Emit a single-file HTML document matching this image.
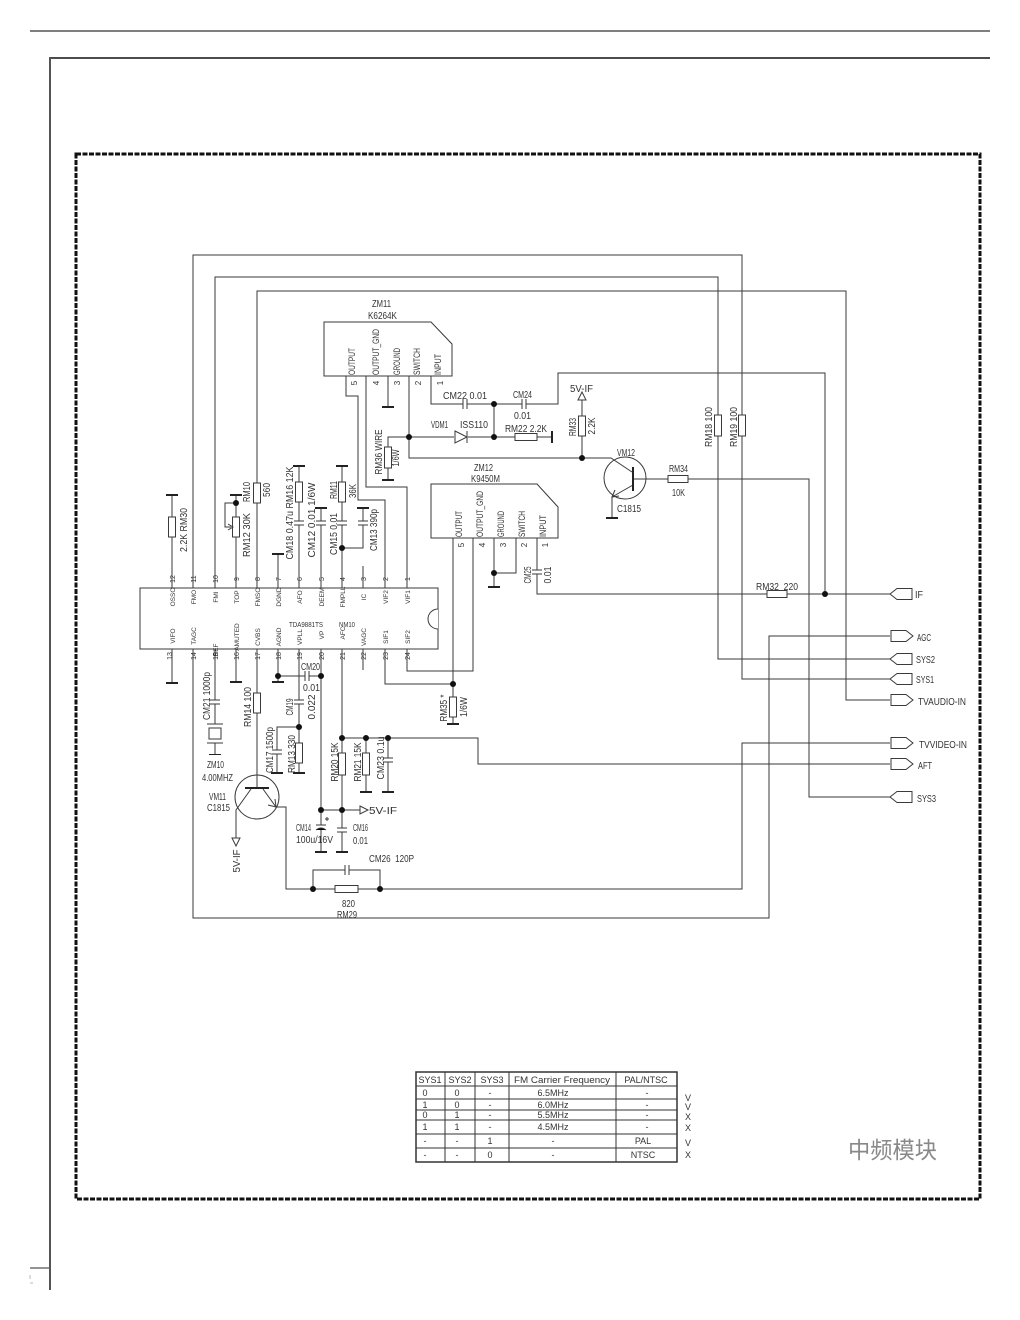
<!DOCTYPE html>
<html><head><meta charset="utf-8"><style>
html,body{margin:0;padding:0;background:#fff;}
svg{display:block;}
text{font-family:"Liberation Sans Narrow","Liberation Sans",sans-serif;fill:#333;}
</style></head><body>
<svg width="1020" height="1320" viewBox="0 0 1020 1320" xmlns="http://www.w3.org/2000/svg">
<!-- page frame -->
<line x1="30" y1="31" x2="990" y2="31" stroke="#555" stroke-width="1.5"/>
<line x1="50" y1="58" x2="990" y2="58" stroke="#111" stroke-width="1.5"/>
<line x1="50" y1="57" x2="50" y2="1290" stroke="#555" stroke-width="2"/>
<line x1="30" y1="1268" x2="50" y2="1268" stroke="#555" stroke-width="1.2"/>
<line x1="30" y1="1275" x2="30" y2="1279" stroke="#bbb" stroke-width="1"/>
<line x1="30" y1="1283" x2="33" y2="1283" stroke="#bbb" stroke-width="1"/>
<rect x="76" y="154" width="904" height="1045" fill="none" stroke="#111" stroke-width="3" stroke-dasharray="5 1.5"/>

<!-- wires -->
<g stroke="#3a3a3a" stroke-width="1" fill="none">
<path d="M193 588V255H742V679H890"/>
<path d="M215 588V277H718V659H890"/>
<path d="M257 588V291H846V700H890"/>
<path d="M346 376V396H358V500H385V588"/>
<path d="M366 376V487H407V588"/>
<path d="M388 376V407"/>
<path d="M409 376V458H582"/>
<path d="M409 437H388V480"/>
<path d="M409 437H552"/>
<path d="M431 376V404H558V373H825V594"/>
<path d="M494 404V437"/>
<path d="M582 400V458"/>
<path d="M582 458H611L632 472"/>
<path d="M633 485L612 497V518"/>
<path d="M633 479H809V797H890"/>
<path d="M453 538V724"/>
<path d="M473 538V671H407V649"/>
<path d="M494 538V587"/>
<path d="M516 538V573H494"/>
<path d="M537 538V594H890"/>
<path d="M385 649V684H453"/>
<path d="M172 495V588"/>
<path d="M236 495V588"/>
<path d="M236 503H225V527H231"/>
<path d="M278 554V588"/>
<path d="M299 466V588"/>
<path d="M321 508V588"/>
<path d="M342 466V588"/>
<path d="M342 548H363V508"/>
<path d="M363 566V588"/>
<path d="M172 649V683"/>
<path d="M193 649V918H769V636H890"/>
<path d="M215 649V754"/>
<path d="M236 649V682"/>
<path d="M257 649V788"/>
<path d="M251 789L236 810V838"/>
<path d="M263 789L276 807H286V889H742V743H890"/>
<path d="M278 649V682"/>
<path d="M278 676H321"/>
<path d="M299 649V773"/>
<path d="M299 727H277V773"/>
<path d="M321 649V852"/>
<path d="M342 649V852"/>
<path d="M321 810H360"/>
<path d="M342 738H478V764H890"/>
<path d="M366 738V792"/>
<path d="M388 738V792"/>
<path d="M363 649V670"/>
<path d="M313 889V870H380V889"/>
</g>

<!-- grounds -->
<g stroke="#222" stroke-width="2">
<line x1="382" y1="407" x2="394" y2="407"/>
<line x1="382" y1="480" x2="394" y2="480"/>
<line x1="552" y1="431" x2="552" y2="443"/>
<line x1="606" y1="518" x2="618" y2="518"/>
<line x1="488" y1="587" x2="500" y2="587"/>
<line x1="447" y1="724" x2="459" y2="724"/>
<line x1="166" y1="495" x2="178" y2="495"/>
<line x1="230" y1="495" x2="242" y2="495"/>
<line x1="272" y1="554" x2="284" y2="554"/>
<line x1="293" y1="466" x2="305" y2="466"/>
<line x1="315" y1="508" x2="327" y2="508"/>
<line x1="336" y1="466" x2="348" y2="466"/>
<line x1="357" y1="508" x2="369" y2="508"/>
<line x1="166" y1="683" x2="178" y2="683"/>
<line x1="209" y1="754" x2="221" y2="754"/>
<line x1="230" y1="682" x2="242" y2="682"/>
<line x1="272" y1="682" x2="284" y2="682"/>
<line x1="293" y1="773" x2="305" y2="773"/>
<line x1="271" y1="773" x2="283" y2="773"/>
<line x1="315" y1="852" x2="327" y2="852"/>
<line x1="336" y1="852" x2="348" y2="852"/>
<line x1="360" y1="792" x2="372" y2="792"/>
<line x1="382" y1="792" x2="394" y2="792"/>
</g>

<!-- resistors -->
<g fill="#fff" stroke="#3a3a3a" stroke-width="1">
<rect x="168.5" y="517" width="7" height="20"/>
<rect x="232.5" y="517" width="7" height="20"/>
<rect x="253.5" y="483" width="7" height="20"/>
<rect x="295.5" y="482" width="7" height="20"/>
<rect x="338.5" y="482" width="7" height="20"/>
<rect x="384.5" y="447" width="7" height="21"/>
<rect x="578.5" y="416" width="7" height="20"/>
<rect x="714.5" y="415" width="7" height="21"/>
<rect x="738.5" y="415" width="7" height="21"/>
<rect x="449.5" y="697" width="7" height="20"/>
<rect x="253.5" y="693" width="7" height="20"/>
<rect x="295.5" y="743" width="7" height="20"/>
<rect x="338.5" y="753" width="7" height="22"/>
<rect x="362.5" y="753" width="7" height="22"/>
<rect x="515" y="433.5" width="22" height="7"/>
<rect x="668" y="475.5" width="20" height="7"/>
<rect x="767" y="590.5" width="20" height="7"/>
<rect x="335" y="885.5" width="23" height="7"/>
</g>
<!-- pot wiper arrow -->
<path d="M228 524L233 527L228 530" fill="none" stroke="#3a3a3a"/>

<!-- capacitors -->
<g fill="#fff" stroke="none">
<rect x="293" y="521" width="12" height="4"/><rect x="315" y="521" width="12" height="4"/>
<rect x="336" y="521" width="12" height="4"/><rect x="357" y="521" width="12" height="4"/>
<rect x="531" y="570" width="12" height="4"/><rect x="209" y="700" width="12" height="4"/>
<rect x="293" y="700" width="12" height="4"/><rect x="271" y="750" width="12" height="4"/>
<rect x="315" y="825" width="12" height="4"/><rect x="336" y="828" width="12" height="4"/>
<rect x="382" y="758" width="12" height="4"/>
<rect x="463" y="398" width="4" height="12"/><rect x="522" y="398" width="4" height="12"/>
<rect x="305" y="670" width="4" height="12"/><rect x="345" y="864" width="4" height="12"/>
</g>
<g stroke="#3a3a3a" stroke-width="1">
<path d="M294 521H304M294 525H304"/><path d="M316 521H326M316 525H326"/>
<path d="M337 521H347M337 525H347"/><path d="M358 521H368M358 525H368"/>
<path d="M532 570H542M532 574H542"/><path d="M210 700H220M210 704H220"/>
<path d="M294 700H304M294 704H304"/><path d="M272 750H282M272 754H282"/>
<path d="M316 825H326M316 830Q321 826 326 830"/><path d="M337 828H347M337 832H347"/>
<path d="M383 758H393M383 762H393"/>
<path d="M463 399V409M467 399V409"/><path d="M522 399V409M526 399V409"/>
<path d="M305 671V681M309 671V681"/><path d="M345 865V875M349 865V875"/>
<path d="M325 819H329M327 817V821"/>
</g>

<!-- crystal -->
<g stroke="#3a3a3a" fill="#fff">
<rect x="208" y="714" width="14" height="40" stroke="none"/>
<line x1="207" y1="724" x2="223" y2="724"/>
<line x1="207" y1="743" x2="223" y2="743"/>
<rect x="209" y="728" width="12" height="11"/>
<line x1="215" y1="704" x2="215" y2="724"/>
<line x1="215" y1="743" x2="215" y2="754"/>
</g>

<!-- diode -->
<rect x="454" y="431" width="14" height="12" fill="#fff"/>
<path d="M455 431L467 437L455 443Z" fill="#fff" stroke="#3a3a3a"/>
<line x1="467" y1="431" x2="467" y2="443" stroke="#3a3a3a"/>

<!-- 5V-IF arrows -->
<path d="M578 400L582 392L586 400Z" fill="#fff" stroke="#3a3a3a"/>
<path d="M232 838L236 846L240 838Z" fill="#fff" stroke="#3a3a3a"/>
<path d="M360 806L368 810L360 814Z" fill="#fff" stroke="#3a3a3a"/>

<!-- transistors -->
<circle cx="625" cy="478" r="21" fill="none" stroke="#3a3a3a"/>
<line x1="633" y1="467" x2="633" y2="491" stroke="#222" stroke-width="2"/>
<path d="M615 490L612 497L619 496" fill="none" stroke="#3a3a3a"/>
<circle cx="257" cy="797" r="22" fill="none" stroke="#3a3a3a"/>
<line x1="245" y1="788" x2="269" y2="788" stroke="#222" stroke-width="2"/>
<path d="M268 805L276 807L275 799" fill="none" stroke="#3a3a3a"/>

<!-- dots -->
<g fill="#111">
<circle cx="409" cy="437" r="3"/><circle cx="494" cy="404" r="3"/><circle cx="494" cy="437" r="3"/>
<circle cx="582" cy="458" r="3"/><circle cx="825" cy="594" r="3"/><circle cx="494" cy="573" r="3"/>
<circle cx="453" cy="684" r="3"/><circle cx="236" cy="503" r="3"/><circle cx="342" cy="548" r="3"/>
<circle cx="278" cy="676" r="3"/><circle cx="321" cy="676" r="3"/><circle cx="299" cy="727" r="3"/>
<circle cx="342" cy="738" r="3"/><circle cx="366" cy="738" r="3"/><circle cx="388" cy="738" r="3"/>
<circle cx="321" cy="810" r="3"/><circle cx="342" cy="810" r="3"/><circle cx="313" cy="889" r="3"/>
<circle cx="380" cy="889" r="3"/>
</g>

<!-- modules -->
<g fill="#fff" stroke="#3a3a3a">
<path d="M324 322H431L452 344V376H324Z"/>
<path d="M431 484H537L558 507V538H431Z"/>
<rect x="140" y="588" width="298" height="61"/>
</g>
<path d="M438 609A10 10 0 0 0 438 629" fill="#fff" stroke="#3a3a3a"/>

<!-- connectors -->
<g fill="#fff" stroke="#3a3a3a">
<path d="M890 594L897 588.5H912V599.5H897Z"/>
<path d="M891 630.5H906L913 636L906 641.5H891Z"/>
<path d="M890 659L897 653.5H912V664.5H897Z"/>
<path d="M890 679L897 673.5H912V684.5H897Z"/>
<path d="M891 694.5H906L913 700L906 705.5H891Z"/>
<path d="M891 737.5H906L913 743L906 748.5H891Z"/>
<path d="M891 758.5H906L913 764L906 769.5H891Z"/>
<path d="M890 797L897 791.5H912V802.5H897Z"/>
</g>

<!-- horizontal labels -->
<g font-size="10" lengthAdjust="spacingAndGlyphs">
<text x="372" y="307" textLength="19" lengthAdjust="spacingAndGlyphs">ZM11</text>
<text x="368" y="319" textLength="29" lengthAdjust="spacingAndGlyphs">K6264K</text>
<text x="474" y="471" textLength="19" lengthAdjust="spacingAndGlyphs">ZM12</text>
<text x="471" y="482" textLength="29" lengthAdjust="spacingAndGlyphs">K9450M</text>
<text x="443" y="399" textLength="44" lengthAdjust="spacingAndGlyphs">CM22 0.01</text>
<text x="513" y="398" textLength="19" lengthAdjust="spacingAndGlyphs">CM24</text>
<text x="514" y="419" textLength="17" lengthAdjust="spacingAndGlyphs">0.01</text>
<text x="431" y="428" textLength="17" lengthAdjust="spacingAndGlyphs">VDM1</text>
<text x="460" y="428" textLength="28" lengthAdjust="spacingAndGlyphs">ISS110</text>
<text x="505" y="432" textLength="42" lengthAdjust="spacingAndGlyphs">RM22 2.2K</text>
<text x="570" y="392" textLength="23" lengthAdjust="spacingAndGlyphs">5V-IF</text>
<text x="617" y="456" textLength="18" lengthAdjust="spacingAndGlyphs">VM12</text>
<text x="617" y="512" textLength="24" lengthAdjust="spacingAndGlyphs">C1815</text>
<text x="669" y="472" textLength="19" lengthAdjust="spacingAndGlyphs">RM34</text>
<text x="672" y="496" textLength="13" lengthAdjust="spacingAndGlyphs">10K</text>
<text x="756" y="590" textLength="42" lengthAdjust="spacingAndGlyphs">RM32&#160;&#160;220</text>
<text x="207" y="768" textLength="17" lengthAdjust="spacingAndGlyphs">ZM10</text>
<text x="202" y="781" textLength="31" lengthAdjust="spacingAndGlyphs">4.00MHZ</text>
<text x="209" y="800" textLength="17" lengthAdjust="spacingAndGlyphs">VM11</text>
<text x="207" y="811" textLength="23" lengthAdjust="spacingAndGlyphs">C1815</text>
<text x="301" y="670" textLength="19" lengthAdjust="spacingAndGlyphs">CM20</text>
<text x="303" y="691" textLength="17" lengthAdjust="spacingAndGlyphs">0.01</text>
<text x="369" y="814" textLength="28" lengthAdjust="spacingAndGlyphs">5V-IF</text>
<text x="296" y="831" textLength="15" lengthAdjust="spacingAndGlyphs">CM14</text>
<text x="296" y="843" textLength="37" lengthAdjust="spacingAndGlyphs">100u/16V</text>
<text x="353" y="831" textLength="15" lengthAdjust="spacingAndGlyphs">CM16</text>
<text x="353" y="844" textLength="15" lengthAdjust="spacingAndGlyphs">0.01</text>
<text x="369" y="862" textLength="45" lengthAdjust="spacingAndGlyphs">CM26&#160;&#160;120P</text>
<text x="342" y="907" textLength="13" lengthAdjust="spacingAndGlyphs">820</text>
<text x="337" y="918" textLength="20" lengthAdjust="spacingAndGlyphs">RM29</text>
<text x="915" y="598" textLength="8" lengthAdjust="spacingAndGlyphs">IF</text>
<text x="917" y="641" textLength="14" lengthAdjust="spacingAndGlyphs">AGC</text>
<text x="916" y="663" textLength="19" lengthAdjust="spacingAndGlyphs">SYS2</text>
<text x="916" y="683" textLength="18" lengthAdjust="spacingAndGlyphs">SYS1</text>
<text x="918" y="705" textLength="48" lengthAdjust="spacingAndGlyphs">TVAUDIO-IN</text>
<text x="919" y="748" textLength="48" lengthAdjust="spacingAndGlyphs">TVVIDEO-IN</text>
<text x="918" y="769" textLength="14" lengthAdjust="spacingAndGlyphs">AFT</text>
<text x="917" y="802" textLength="19" lengthAdjust="spacingAndGlyphs">SYS3</text>
</g>
<text x="289" y="627" font-size="7" textLength="34" lengthAdjust="spacingAndGlyphs">TDA9881TS</text>
<text x="339" y="627" font-size="7" textLength="16" lengthAdjust="spacingAndGlyphs">NM10</text>

<!-- rotated labels -->
<g font-size="10" text-anchor="middle">
<text transform="translate(187,530) rotate(-90)" textLength="44" lengthAdjust="spacingAndGlyphs">2.2K RM30</text>
<text transform="translate(250,535) rotate(-90)" textLength="44" lengthAdjust="spacingAndGlyphs">RM12 30K</text>
<text transform="translate(250,492) rotate(-90)" textLength="20" lengthAdjust="spacingAndGlyphs">RM10</text>
<text transform="translate(270,490) rotate(-90)" textLength="14" lengthAdjust="spacingAndGlyphs">560</text>
<text transform="translate(293,513) rotate(-90)" textLength="93" lengthAdjust="spacingAndGlyphs">CM18 0.47u RM16 12K</text>
<text transform="translate(315,520) rotate(-90)" textLength="75" lengthAdjust="spacingAndGlyphs">CM12  0.01  1/6W</text>
<text transform="translate(337,534) rotate(-90)" textLength="42" lengthAdjust="spacingAndGlyphs">CM15 0.01</text>
<text transform="translate(337,490) rotate(-90)" textLength="18" lengthAdjust="spacingAndGlyphs">RM11</text>
<text transform="translate(356,491) rotate(-90)" textLength="14" lengthAdjust="spacingAndGlyphs">36K</text>
<text transform="translate(377,530) rotate(-90)" textLength="42" lengthAdjust="spacingAndGlyphs">CM13 390p</text>
<text transform="translate(382,452) rotate(-90)" textLength="45" lengthAdjust="spacingAndGlyphs">RM36 WIRE</text>
<text transform="translate(399,458) rotate(-90)" textLength="17" lengthAdjust="spacingAndGlyphs">1/6W</text>
<text transform="translate(576,427) rotate(-90)" textLength="18" lengthAdjust="spacingAndGlyphs">RM33</text>
<text transform="translate(595,426) rotate(-90)" textLength="17" lengthAdjust="spacingAndGlyphs">2.2K</text>
<text transform="translate(712,427) rotate(-90)" textLength="40" lengthAdjust="spacingAndGlyphs">RM18 100</text>
<text transform="translate(737,427) rotate(-90)" textLength="40" lengthAdjust="spacingAndGlyphs">RM19 100</text>
<text transform="translate(531,575) rotate(-90)" textLength="17" lengthAdjust="spacingAndGlyphs">CM25</text>
<text transform="translate(551,575) rotate(-90)" textLength="17" lengthAdjust="spacingAndGlyphs">0.01</text>
<text transform="translate(210,696) rotate(-90)" textLength="48" lengthAdjust="spacingAndGlyphs">CM21 1000p</text>
<text transform="translate(251,707) rotate(-90)" textLength="40" lengthAdjust="spacingAndGlyphs">RM14 100</text>
<text transform="translate(293,707) rotate(-90)" textLength="17" lengthAdjust="spacingAndGlyphs">CM19</text>
<text transform="translate(315,707) rotate(-90)" textLength="25" lengthAdjust="spacingAndGlyphs">0.022</text>
<text transform="translate(273,750) rotate(-90)" textLength="46" lengthAdjust="spacingAndGlyphs">CM17 1500p</text>
<text transform="translate(295,754) rotate(-90)" textLength="38" lengthAdjust="spacingAndGlyphs">RM13 330</text>
<text transform="translate(338,762) rotate(-90)" textLength="39" lengthAdjust="spacingAndGlyphs">RM20 15K</text>
<text transform="translate(361,762) rotate(-90)" textLength="39" lengthAdjust="spacingAndGlyphs">RM21 15K</text>
<text transform="translate(384,758) rotate(-90)" textLength="43" lengthAdjust="spacingAndGlyphs">CM23 0.1u</text>
<text transform="translate(447,708) rotate(-90)" textLength="27" lengthAdjust="spacingAndGlyphs">RM35 *</text>
<text transform="translate(467,707) rotate(-90)" textLength="20" lengthAdjust="spacingAndGlyphs">1/6W</text>
<text transform="translate(240,861) rotate(-90)" textLength="23" lengthAdjust="spacingAndGlyphs">5V-IF</text>
</g>

<!-- module pin names -->
<g font-size="9" text-anchor="start">
<text transform="translate(355,375) rotate(-90)" textLength="27" lengthAdjust="spacingAndGlyphs">OUTPUT</text>
<text transform="translate(379,375) rotate(-90)" textLength="46" lengthAdjust="spacingAndGlyphs">OUTPUT_GND</text>
<text transform="translate(400,375) rotate(-90)" textLength="27" lengthAdjust="spacingAndGlyphs">GROUND</text>
<text transform="translate(420,375) rotate(-90)" textLength="27" lengthAdjust="spacingAndGlyphs">SWITCH</text>
<text transform="translate(441,375) rotate(-90)" textLength="21" lengthAdjust="spacingAndGlyphs">INPUT</text>
<text transform="translate(462,537) rotate(-90)" textLength="26" lengthAdjust="spacingAndGlyphs">OUTPUT</text>
<text transform="translate(483,537) rotate(-90)" textLength="46" lengthAdjust="spacingAndGlyphs">OUTPUT_GND</text>
<text transform="translate(504,537) rotate(-90)" textLength="26" lengthAdjust="spacingAndGlyphs">GROUND</text>
<text transform="translate(525,537) rotate(-90)" textLength="26" lengthAdjust="spacingAndGlyphs">SWITCH</text>
<text transform="translate(546,537) rotate(-90)" textLength="22" lengthAdjust="spacingAndGlyphs">INPUT</text>
</g>
<g font-size="8" text-anchor="middle">
<text transform="translate(357,383) rotate(-90)">5</text>
<text transform="translate(379,383) rotate(-90)">4</text>
<text transform="translate(400,383) rotate(-90)">3</text>
<text transform="translate(421,383) rotate(-90)">2</text>
<text transform="translate(443,383) rotate(-90)">1</text>
<text transform="translate(464,545) rotate(-90)">5</text>
<text transform="translate(485,545) rotate(-90)">4</text>
<text transform="translate(506,545) rotate(-90)">3</text>
<text transform="translate(527,545) rotate(-90)">2</text>
<text transform="translate(548,545) rotate(-90)">1</text>
</g>

<!-- chip pin names & numbers -->
<g font-size="6.5" text-anchor="middle">
<text transform="translate(175,597) rotate(-90)">OSSO</text>
<text transform="translate(196,597) rotate(-90)">FMO</text>
<text transform="translate(218,597) rotate(-90)">FMI</text>
<text transform="translate(239,597) rotate(-90)">TOP</text>
<text transform="translate(260,597) rotate(-90)">FMSO</text>
<text transform="translate(281,597) rotate(-90)">DGND</text>
<text transform="translate(302,597) rotate(-90)">AFO</text>
<text transform="translate(324,597) rotate(-90)">DEEM</text>
<text transform="translate(345,597) rotate(-90)">FMPLL</text>
<text transform="translate(366,597) rotate(-90)">IC</text>
<text transform="translate(388,597) rotate(-90)">VIF2</text>
<text transform="translate(410,597) rotate(-90)">VIF1</text>
<text transform="translate(175,636) rotate(-90)">VIFO</text>
<text transform="translate(196,636) rotate(-90)">TAGC</text>
<text transform="translate(218,650) rotate(-90)">REF</text>
<text transform="translate(239,637) rotate(-90)">AMUTED</text>
<text transform="translate(260,637) rotate(-90)">CVBS</text>
<text transform="translate(281,637) rotate(-90)">AGND</text>
<text transform="translate(302,637) rotate(-90)">VPLL</text>
<text transform="translate(324,635) rotate(-90)">VP</text>
<text transform="translate(345,633) rotate(-90)">AFC</text>
<text transform="translate(366,637) rotate(-90)">VAGC</text>
<text transform="translate(388,637) rotate(-90)">SIF1</text>
<text transform="translate(410,637) rotate(-90)">SIF2</text>
</g>
<g font-size="7" text-anchor="middle">
<text transform="translate(175,579) rotate(-90)">12</text>
<text transform="translate(196,579) rotate(-90)">11</text>
<text transform="translate(218,579) rotate(-90)">10</text>
<text transform="translate(239,579) rotate(-90)">9</text>
<text transform="translate(260,579) rotate(-90)">8</text>
<text transform="translate(281,579) rotate(-90)">7</text>
<text transform="translate(302,579) rotate(-90)">6</text>
<text transform="translate(324,579) rotate(-90)">5</text>
<text transform="translate(345,579) rotate(-90)">4</text>
<text transform="translate(366,579) rotate(-90)">3</text>
<text transform="translate(388,579) rotate(-90)">2</text>
<text transform="translate(410,579) rotate(-90)">1</text>
<text transform="translate(172,656) rotate(-90)">13</text>
<text transform="translate(196,656) rotate(-90)">14</text>
<text transform="translate(218,656) rotate(-90)">15</text>
<text transform="translate(239,656) rotate(-90)">16</text>
<text transform="translate(260,656) rotate(-90)">17</text>
<text transform="translate(281,656) rotate(-90)">18</text>
<text transform="translate(302,656) rotate(-90)">19</text>
<text transform="translate(324,656) rotate(-90)">20</text>
<text transform="translate(345,656) rotate(-90)">21</text>
<text transform="translate(366,656) rotate(-90)">22</text>
<text transform="translate(388,656) rotate(-90)">23</text>
<text transform="translate(410,656) rotate(-90)">24</text>
</g>

<!-- table -->
<g stroke="#333" fill="none">
<rect x="416" y="1072" width="261" height="90" stroke-width="1.5"/>
<path d="M445 1072V1162M475 1072V1162M509 1072V1162M616 1072V1162" stroke-width="1"/>
<path d="M416 1086H677M416 1099H677M416 1110H677M416 1120H677M416 1134H677M416 1148H677" stroke-width="1"/>
</g>
<g font-size="9" text-anchor="middle">
<text x="430" y="1083">SYS1</text><text x="460" y="1083">SYS2</text><text x="492" y="1083">SYS3</text>
<text x="562" y="1083" textLength="96" lengthAdjust="spacingAndGlyphs">FM Carrier Frequency</text>
<text x="646" y="1083">PAL/NTSC</text>
<text x="425" y="1096">0</text><text x="457" y="1096">0</text><text x="490" y="1096">-</text><text x="553" y="1096">6.5MHz</text><text x="647" y="1096">-</text>
<text x="425" y="1108">1</text><text x="457" y="1108">0</text><text x="490" y="1108">-</text><text x="553" y="1108">6.0MHz</text><text x="647" y="1108">-</text>
<text x="425" y="1118">0</text><text x="457" y="1118">1</text><text x="490" y="1118">-</text><text x="553" y="1118">5.5MHz</text><text x="647" y="1118">-</text>
<text x="425" y="1130">1</text><text x="457" y="1130">1</text><text x="490" y="1130">-</text><text x="553" y="1130">4.5MHz</text><text x="647" y="1130">-</text>
<text x="425" y="1144">-</text><text x="457" y="1144">-</text><text x="490" y="1144">1</text><text x="553" y="1144">-</text><text x="643" y="1144">PAL</text>
<text x="425" y="1158">-</text><text x="457" y="1158">-</text><text x="490" y="1158">0</text><text x="553" y="1158">-</text><text x="643" y="1158">NTSC</text>
<text x="688" y="1101">V</text><text x="688" y="1110">V</text><text x="688" y="1120">X</text>
<text x="688" y="1131">X</text><text x="688" y="1146">V</text><text x="688" y="1158">X</text>
</g>

<text x="848" y="1158" font-size="23" textLength="89" lengthAdjust="spacingAndGlyphs" style="font-family:'Liberation Sans','Noto Sans CJK SC',sans-serif;fill:#888;">中频模块</text>
</svg>
</body></html>
